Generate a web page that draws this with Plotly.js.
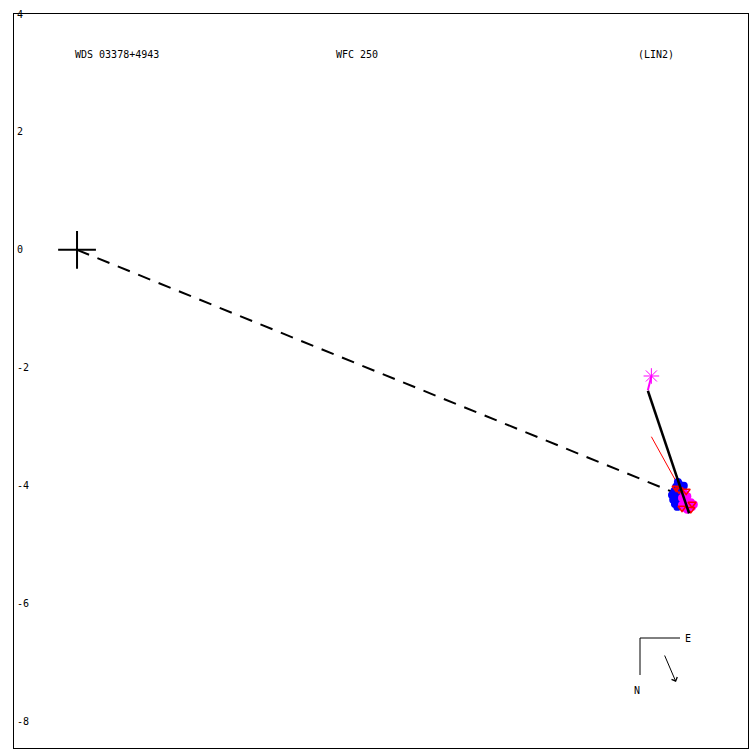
<!DOCTYPE html>
<html><head><meta charset="utf-8">
<script src="https://cdn.plot.ly/plotly-3.0.1.min.js"></script>
<style>html,body{margin:0;padding:0;background:#fff}</style>
</head><body>
<div id="plot" style="width:750px;height:750px"></div>
<script>
// Primary star
const primaryX = [0];
const primaryY = [0];
// Dashed line from primary to current position
const dashX = [0, 10.24];
const dashY = [0, -4.16];
// Ephemeris marker (magenta asterisk) and connector
const astX = [9.75];
const astY = [-2.14];
const astLineX = [9.75, 9.69];
const astLineY = [-2.14, -2.38];
// Black orbit segment
const orbitX = [9.69, 10.39];
const orbitY = [-2.39, -4.47];
// Red thin line
const redLineX = [9.75, 10.27];
const redLineY = [-3.17, -4.11];
// Blue measurements
const blueX = [10.17, 10.22, 10.27, 10.14, 10.20, 10.29, 10.10, 10.17, 10.25, 10.12, 10.19, 10.25, 10.15, 10.22, 10.19, 10.30, 10.20];
const blueY = [-4.02, -3.97, -4.02, -4.09, -4.07, -4.09, -4.16, -4.16, -4.16, -4.24, -4.24, -4.23, -4.31, -4.31, -4.36, -4.00, -3.94];
// Magenta measurements
const magX = [10.31, 10.36, 10.27, 10.34, 10.42, 10.31, 10.39, 10.27, 10.32, 10.44, 10.47, 10.36];
const magY = [-4.13, -4.18, -4.21, -4.24, -4.28, -4.30, -4.35, -4.33, -4.38, -4.36, -4.32, -4.41];
// Red measurements
const redX = [10.22, 10.34, 10.44, 10.42, 10.27, 10.17];
const redY = [-4.07, -4.09, -4.31, -4.40, -4.38, -4.04];
// Labels
const titleLeft = "WDS 03378+4943";
const titleMid = "WFC 250";
const titleRight = "(LIN2)";
const yTicks = [4, 2, 0, -2, -4, -6, -8];

const mono = "DejaVu Sans Mono, monospace";
const traces = [
  {x: dashX, y: dashY, mode: "lines", line: {color: "black", width: 2, dash: "13px,9px"}},
  {x: redLineX, y: redLineY, mode: "lines", line: {color: "red", width: 1}},
  {x: blueX, y: blueY, mode: "markers", marker: {color: "blue", size: 8}},
  {x: magX, y: magY, mode: "markers", marker: {color: "magenta", size: 8}},
  {x: redX, y: redY, mode: "markers", marker: {color: "red", size: 7, symbol: "triangle-down-open", line: {color: "red", width: 1.5}}},
  {x: orbitX, y: orbitY, mode: "lines", line: {color: "black", width: 2.5}},
  {x: astLineX, y: astLineY, mode: "lines", line: {color: "magenta", width: 2}},
  {x: astX, y: astY, mode: "markers", marker: {symbol: "asterisk-open", size: 13, color: "magenta", line: {color: "magenta", width: 1}}},
  {x: primaryX, y: primaryY, mode: "markers", marker: {symbol: "cross-thin-open", size: 27, color: "black", line: {color: "black", width: 2}}}
];

const layout = {
  width: 750, height: 750,
  margin: {l: 14, r: 2, t: 14, b: 2},
  showlegend: false,
  paper_bgcolor: "white", plot_bgcolor: "white",
  xaxis: {range: [-1.07, 11.39], showgrid: false, zeroline: false, showticklabels: false, ticks: "",
          showline: true, mirror: true, linecolor: "black", linewidth: 1},
  yaxis: {range: [-8.45, 4.0], showgrid: false, zeroline: false, tickvals: yTicks, ticktext: yTicks.map(String),
          ticks: "", ticklabelposition: "inside", ticklabeloverflow: "allow", ticklabelstandoff: 2,
          tickfont: {family: mono, size: 10, color: "black"},
          showline: true, mirror: true, linecolor: "black", linewidth: 1},
  annotations: [
    {xref: "paper", yref: "paper", x: (73-14)/734, y: (748-55)/734, xanchor: "left", yanchor: "middle", text: titleLeft, showarrow: false, font: {family: mono, size: 10, color: "black"}},
    {xref: "paper", yref: "paper", x: (334-14)/734, y: (748-55)/734, xanchor: "left", yanchor: "middle", text: titleMid, showarrow: false, font: {family: mono, size: 10, color: "black"}},
    {xref: "paper", yref: "paper", x: (636-14)/734, y: (748-55)/734, xanchor: "left", yanchor: "middle", text: titleRight, showarrow: false, font: {family: mono, size: 10, color: "black"}},
    {xref: "paper", yref: "paper", x: (688-14)/734, y: (748-638)/734, xanchor: "center", yanchor: "middle", text: "E", showarrow: false, font: {family: mono, size: 10, color: "black"}},
    {xref: "paper", yref: "paper", x: (637-14)/734, y: (748-690)/734, xanchor: "center", yanchor: "middle", text: "N", showarrow: false, font: {family: mono, size: 10, color: "black"}},
    {xref: "paper", yref: "paper", x: (676-14)/734, y: (748-682)/734, ax: -12, ay: -28, text: "", showarrow: true, arrowhead: 4, arrowsize: 1.2, arrowwidth: 1, arrowcolor: "black"}
  ],
  shapes: [
    {type: "line", xref: "paper", yref: "paper", x0: (640-14)/734, x1: (680-14)/734, y0: (748-638)/734, y1: (748-638)/734, line: {color: "black", width: 1}},
    {type: "line", xref: "paper", yref: "paper", x0: (640-14)/734, x1: (640-14)/734, y0: (748-638)/734, y1: (748-675)/734, line: {color: "black", width: 1}}
  ]
};
Plotly.newPlot("plot", traces, layout, {displayModeBar: false, staticPlot: true});
</script>
</body></html>
